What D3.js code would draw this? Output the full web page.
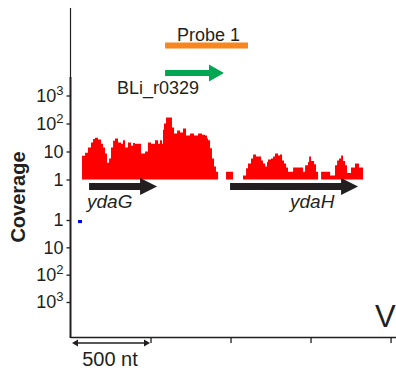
<!DOCTYPE html>
<html>
<head>
<meta charset="utf-8">
<script src="https://cdn.jsdelivr.net/npm/d3@7"></script>
<style>
body { margin: 0; background: #fff; }
text { font-family: "Liberation Sans", Arial, sans-serif; fill: #231f20; }
</style>
</head>
<body>
<div id="chart"></div>
<script>
// plus strand coverage (position in nt, coverage); 0 = no reads
var plusPos = [72, 91, 109, 128, 141, 153, 172, 191, 203, 216, 228, 241, 253, 266, 278, 297, 316, 328, 341, 359,
  378, 391, 403, 422, 441, 453, 466, 484, 503, 516, 528, 547, 559, 572, 578, 584, 597, 622, 634, 647,
  666, 684, 703, 722, 747, 772, 797, 822, 841, 853, 859, 872, 884, 897, 909, 922,
  945, 972, 1016, 1040,
  1078, 1097, 1109, 1128, 1141, 1159, 1178, 1191, 1203, 1216, 1228, 1234, 1253, 1266, 1278, 1297, 1309, 1322,
  1334, 1347, 1359, 1391, 1428, 1453, 1466, 1484, 1491, 1503, 1522, 1534, 1547, 1556,
  1566, 1622, 1653, 1666, 1678, 1691, 1703, 1716, 1728, 1753, 1778, 1803, 1828];
var plusCov = [7, 9, 14, 21, 28, 31, 27, 19, 14, 8.5, 4, 5.6, 14, 24, 29, 21, 19, 25, 14, 21,
  16, 20, 19, 19, 8.5, 8.5, 10, 21, 19, 19, 25, 19, 25, 19, 60, 100, 163, 163, 72, 44,
  56, 48, 66, 37, 44, 37, 44, 40, 37, 30, 25, 13, 5.6, 2.9, 1.9, 1.9,
  0, 1.9, 1.9, 0,
  1.4, 2.5, 3.7, 5.6, 7.8, 6.6, 6.6, 4.8, 3.7, 2.9, 4.2, 5.2, 5.6, 6.6, 8.5, 7.2, 7.8, 4.8,
  3.7, 2.7, 1.9, 2.7, 2.7, 1.9, 3.2, 4.2, 6.6, 4.6, 3.5, 1.9, 1.4, 0,
  1.9, 1.4, 3.2, 4.8, 5.6, 7.2, 4.6, 3.2, 1.7, 2.7, 3.7, 2.7, 2.7];

// minus strand coverage
var minusPos = [47, 72];
var minusCov = [1.3, 1.3];

var yTicks = [1, 10, 100, 1000];
var xTicks = [500, 1000, 1500, 2000];

var genes = ['ydaG', 'ydaH'];
var geneStart = [116, 997];
var geneEnd = [541, 1797];

var probeName = 'Probe 1';
var probeRange = [591, 1109];
var srnaName = 'BLi_r0329';
var srnaRange = [591, 959];

var width = 396, height = 373;
var ink = '#231f20';

var svg = d3.select('#chart').append('svg')
  .attr('width', width)
  .attr('height', height);

var x = d3.scaleLinear().domain([0, 2034]).range([70.5, 396]);
var yPlus = d3.scaleLog().domain([1, 1000]).range([179.5, 95.5]);
var yMinus = d3.scaleLog().domain([1, 1000]).range([220, 302]);

var plusData = plusPos.map(function(p, i) { return {pos: p, cov: plusCov[i]}; });
var minusData = minusPos.map(function(p, i) { return {pos: p, cov: minusCov[i]}; });

var plusArea = d3.area()
  .defined(function(d) { return d.cov > 0; })
  .curve(d3.curveStepAfter)
  .x(function(d) { return x(d.pos); })
  .y0(yPlus(1))
  .y1(function(d) { return yPlus(d.cov); });

var minusArea = d3.area()
  .curve(d3.curveStepAfter)
  .x(function(d) { return x(d.pos); })
  .y0(yMinus(1))
  .y1(function(d) { return yMinus(d.cov); });

svg.append('path').datum(plusData).attr('d', plusArea).attr('fill', '#ff0000');
svg.append('path').datum(minusData).attr('d', minusArea).attr('fill', '#0000ff');

// y axes
function supFormat(sel) {
  sel.selectAll('.tick text').each(function(d) {
    var t = d3.select(this).text('');
    if (d === 1) { t.text('1'); return; }
    if (d === 10) { t.text('10'); return; }
    t.append('tspan').text('10');
    t.append('tspan').attr('font-size', 13).attr('dy', -7).text(Math.round(Math.log10(d)));
  });
}

[yPlus, yMinus].forEach(function(sc) {
  var g = svg.append('g')
    .attr('transform', 'translate(' + x(0) + ',0)')
    .call(d3.axisLeft(sc).tickValues(yTicks).tickSize(4).tickPadding(3))
    .call(supFormat);
  g.select('.domain').remove();
  g.selectAll('.tick line').attr('stroke', ink).attr('stroke-width', 1.3);
  g.selectAll('.tick text').attr('font-size', 18).attr('fill', ink);
});

svg.append('line')
  .attr('x1', x(0)).attr('x2', x(0)).attr('y1', 8).attr('y2', 77)
  .attr('stroke', ink).attr('stroke-width', 1.2);
svg.append('line')
  .attr('x1', x(0)).attr('x2', x(0)).attr('y1', 77).attr('y2', 338)
  .attr('stroke', ink).attr('stroke-width', 2);

// x axis
var xg = svg.append('g')
  .attr('transform', 'translate(0,337)')
  .call(d3.axisBottom(x).tickValues(xTicks).tickSize(6).tickSizeOuter(0).tickFormat(''));
xg.select('.domain').attr('stroke', ink).attr('stroke-width', 1.5);
xg.selectAll('.tick line').attr('stroke', ink).attr('stroke-width', 1.3);

svg.append('text')
  .attr('transform', 'translate(25,197) rotate(-90)')
  .attr('text-anchor', 'middle')
  .attr('font-size', 20)
  .attr('font-weight', 'bold')
  .text('Coverage');

// arrow shape helper
function arrow(x0, x1, yc, shaft, headH, headL) {
  var hx = x1 - headL;
  return 'M' + x0 + ',' + (yc - shaft / 2) + 'L' + hx + ',' + (yc - shaft / 2) +
    'L' + hx + ',' + (yc - headH / 2) + 'L' + x1 + ',' + yc +
    'L' + hx + ',' + (yc + headH / 2) + 'L' + hx + ',' + (yc + shaft / 2) +
    'L' + x0 + ',' + (yc + shaft / 2) + 'Z';
}

// genes
genes.forEach(function(name, i) {
  svg.append('path')
    .attr('d', arrow(x(geneStart[i]), x(geneEnd[i]), 186.5, 7, 17, 17))
    .attr('fill', ink);
});
svg.append('text').attr('x', 87).attr('y', 208).attr('font-size', 19)
  .attr('font-style', 'italic').text(genes[0]);
svg.append('text').attr('x', 290).attr('y', 208).attr('font-size', 19)
  .attr('font-style', 'italic').text(genes[1]);

// probe
svg.append('rect')
  .attr('x', x(probeRange[0])).attr('width', x(probeRange[1]) - x(probeRange[0]))
  .attr('y', 42.5).attr('height', 6)
  .attr('fill', '#f7861f');
svg.append('text').attr('x', 177).attr('y', 41).attr('font-size', 18).text(probeName);

// sRNA
svg.append('path')
  .attr('d', arrow(x(srnaRange[0]), x(srnaRange[1]), 73, 6, 17, 15))
  .attr('fill', '#00a651');
svg.append('text').attr('x', 117).attr('y', 94).attr('font-size', 18).text(srnaName);

// scale bar
var sb0 = x(0) + 1.5, sb1 = x(500) - 0.5, sby = 343;
svg.append('line').attr('x1', sb0 + 3).attr('x2', sb1 - 3).attr('y1', sby).attr('y2', sby)
  .attr('stroke', ink).attr('stroke-width', 1.5);
svg.append('path')
  .attr('d', 'M' + sb0 + ',' + sby + 'l6,-3.5l0,7Z M' + sb1 + ',' + sby + 'l-6,-3.5l0,7Z')
  .attr('fill', ink);
svg.append('text').attr('x', 110).attr('y', 366).attr('text-anchor', 'middle')
  .attr('font-size', 20).text('500 nt');

svg.append('text').attr('x', 375).attr('y', 327).attr('font-size', 31).text('V');
</script>
</body>
</html>
